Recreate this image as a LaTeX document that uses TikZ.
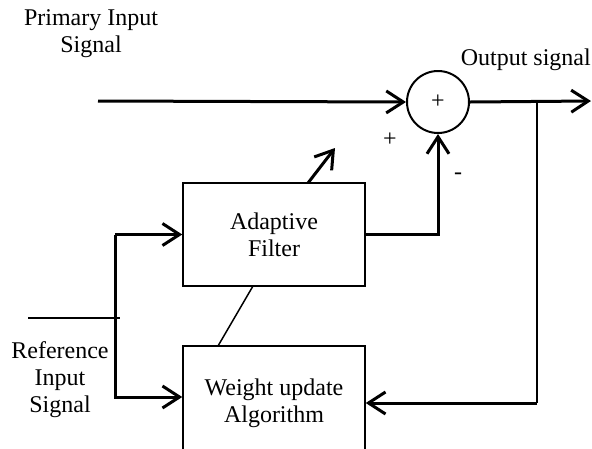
\documentclass[tikz,border=0pt]{standalone}
\usepackage{fontspec}
\setmainfont{Liberation Serif}
\usetikzlibrary{arrows.meta}
\begin{document}
\begin{tikzpicture}[x=1pt,y=-1pt,
    font=\fontsize{24}{27}\selectfont,
    >={Straight Barb[length=17pt,width=22pt]}]
    \tikzstyle{block}=[draw,line width=1.5pt,minimum width=182pt,align=center,inner sep=0pt]
    \tikzstyle{sig}=[line width=3pt]
    \tikzstyle{wire}=[line width=1.5pt]
    \tikzstyle{lbl}=[align=center,inner sep=0pt]
    \useasboundingbox (0,0) rectangle (592,448);
    % blocks
    \node[block,minimum height=103pt] (filter) at (274,234.5) {Adaptive\\Filter};
    \node[block,minimum height=114pt] (weight) at (274,403) {Weight update\\Algorithm};
    \node[circle,draw,line width=2pt,minimum size=62pt,inner sep=0pt] (sum) at (438,102) {+};
    % free ends
    \coordinate (pin) at (98,101);
    \coordinate (pout) at (591,101);
    \coordinate (tap) at (537,101);
    \coordinate (rsplit) at (115,318);
    \coordinate (rin) at (28,318);
    \coordinate (rend) at (120,318);
    \coordinate (tune) at (335,148);
    % texts
    \node[lbl] (primary) at (91,34) {Primary Input\\Signal};
    \node[lbl,anchor=base east] (outlbl) at (591,65) {Output signal};
    \node[lbl] (reflbl) at (60,380) {Reference\\Input\\Signal};
    \node[lbl] (plus) at (390,140) {+};
    \node[lbl] (minus) at (458,176) {-};
    % connectors
    \draw[sig,->] (pin) -- (sum.west);
    \draw[sig,->] (sum.east) -- (pout);
    \draw[sig,->] (filter.east) -| (sum.south);
    \draw[wire] (tap) -- (tap |- weight.east);
    \draw[sig,->] (tap |- weight.east) -- (weight.east);
    \draw[wire] (rin) -- (rend);
    \draw[sig,->] (rsplit |- filter.west) -- (filter.west);
    \draw[sig,->] (rsplit |- filter.west) -- (rsplit |- 0,397) -- (weight.west |- 0,397);
    \draw[wire] (253,286) -- (218,346);
    \draw[sig,->] (308,183) -- (tune);
  \end{tikzpicture}
\end{document}
